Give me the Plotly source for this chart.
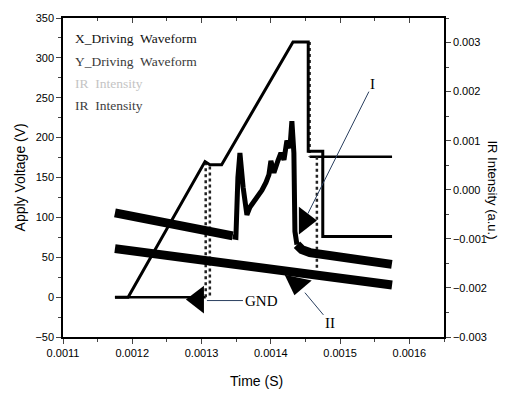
import plotly.graph_objects as go

# ---- data ----
# X driving waveform (left axis, V)
x_drive_t = [0.001175, 0.001194, 0.001305, 0.001312, 0.001329, 0.001432, 0.001454, 0.001454, 0.001475, 0.001475, 0.001575]
x_drive_v = [0, 0, 170, 166, 166, 320, 320, 183, 183, 76, 76]
# Y driving waveform (left axis, V): held levels (None = break) and switching edges
y_level_t = [0.001175, 0.001306, None, 0.001456, 0.001575]
y_level_v = [0, 0, None, 176, 176]
y_edge_t = [0.001306, 0.001306, None, 0.001312, 0.001312, None, 0.001456, 0.001456, None, 0.0014665, 0.0014665]
y_edge_v = [0, 168, None, 2, 166, None, 320, 176, None, 176, 33]

# IR intensity I (right axis, a.u.) – before, during and after the discharge
ir1_pre_t = [0.001175, 0.001260, 0.001345]
ir1_pre_v = [-0.00047, -0.00070, -0.00094]
ir1_mid_t = [0.001345, 0.0013496, 0.0013525, 0.0013554, 0.001360, 0.0013655, 0.001370, 0.0013756, 0.0013814,
             0.0013872, 0.001393, 0.0013973, 0.0014001, 0.0014045, 0.0014102, 0.0014146, 0.001419, 0.0014232,
             0.0014276, 0.0014304, 0.0014333, 0.0014348, 0.0014377]
ir1_mid_v = [-0.00096, -0.00097, 0.00025, 0.00075, 0.00005, -0.00051, -0.00035, -0.00025, -0.00011,
             -0.00001, 0.00015, 0.00031, 0.00059, 0.00035, 0.00059, 0.00075, 0.00061, 0.00100,
             0.00085, 0.00140, 0.00075, -0.00085, -0.00112]
ir1_post_t = [0.0014377, 0.0014449, 0.0014564, 0.0014853, 0.0015286, 0.0015747]
ir1_post_v = [-0.00112, -0.00122, -0.00128, -0.00134, -0.00142, -0.00152]

# IR intensity II (right axis)
ir2_t = [0.001175, 0.001375, 0.001575]
ir2_v = [-0.00120, -0.00157, -0.00194]

# pointer triangles (time, voltage)
gnd_mark = (0.0012948, -3)
i_mark = (0.0014492, 96)
ii_mark = (0.0014377, 17)

legend_items = [("X_Driving  Waveform", "#111111"), ("Y_Driving  Waveform", "#3a3a3a"),
                ("IR  Intensity", "#c4c4c4"), ("IR  Intensity", "#404040")]

x_ticks = [0.0011, 0.0012, 0.0013, 0.0014, 0.0015, 0.0016]
x_ticktext = ["0.0011", "0.0012", "0.0013", "0.0014", "0.0015", "0.0016"]

fig = go.Figure()

fig.add_trace(go.Scatter(x=ir2_t, y=ir2_v, yaxis="y2", mode="lines",
                         line=dict(color="black", width=9), showlegend=False))
fig.add_trace(go.Scatter(x=ir1_pre_t, y=ir1_pre_v, yaxis="y2", mode="lines",
                         line=dict(color="black", width=9), showlegend=False))
fig.add_trace(go.Scatter(x=ir1_mid_t, y=ir1_mid_v, yaxis="y2", mode="lines",
                         line=dict(color="black", width=5), showlegend=False))
fig.add_trace(go.Scatter(x=ir1_post_t, y=ir1_post_v, yaxis="y2", mode="lines",
                         line=dict(color="black", width=9), showlegend=False))

fig.add_trace(go.Scatter(x=y_level_t, y=y_level_v, mode="lines", connectgaps=False,
                         line=dict(color="black", width=2.5), showlegend=False))
fig.add_trace(go.Scatter(x=y_edge_t, y=y_edge_v, mode="lines", connectgaps=False,
                         line=dict(color="#222222", width=2.5, dash="dot"), showlegend=False))
fig.add_trace(go.Scatter(x=x_drive_t, y=x_drive_v, mode="lines",
                         line=dict(color="black", width=3), showlegend=False))

# pointer triangles
fig.add_trace(go.Scatter(x=[gnd_mark[0]], y=[gnd_mark[1]], mode="markers",
                         marker=dict(symbol="triangle-left", size=24, color="black"), showlegend=False))
fig.add_trace(go.Scatter(x=[i_mark[0]], y=[i_mark[1]], mode="markers",
                         marker=dict(symbol="triangle-right", size=24, color="black"), showlegend=False))
fig.add_trace(go.Scatter(x=[ii_mark[0]], y=[ii_mark[1]], mode="markers",
                         marker=dict(symbol="triangle-down", size=24, color="black", angle=12), showlegend=False))

# dummy trace for top axis ticks
fig.add_trace(go.Scatter(x=[x_ticks[0]], y=[0], xaxis="x2", mode="markers",
                         marker=dict(opacity=0), showlegend=False, hoverinfo="skip"))

serif = "Liberation Serif"
sans = "Liberation Sans"

ann = []
ys = [0.935, 0.863, 0.795, 0.727]
for (txt, col), yy in zip(legend_items, ys):
    ann.append(dict(x=0.027, y=yy, xref="paper", yref="paper", text=txt, showarrow=False,
                    xanchor="left", yanchor="middle", font=dict(family=serif, size=13.5, color=col)))

# pointer labels
ann.append(dict(x=0.0013078, y=-4.3, xref="x", yref="y", text="GND", showarrow=True, arrowhead=0,
                arrowwidth=1, ax=36, ay=0, xanchor="left", font=dict(family=serif, size=15, color="black")))
ann.append(dict(x=0.0014535, y=104.7, xref="x", yref="y", text="I", showarrow=True, arrowhead=0,
                arrowwidth=1, ax=65, ay=-130, font=dict(family=serif, size=15, color="black")))
ann.append(dict(x=0.0014492, y=5.6, xref="x", yref="y", text="II", showarrow=True, arrowhead=0,
                arrowwidth=1, ax=25, ay=30, font=dict(family=serif, size=15, color="black")))

# axis titles
ann.append(dict(x=-0.113, y=0.5, xref="paper", yref="paper", text="Apply Voltage (V)", showarrow=False,
                xanchor="center", yanchor="middle",
                textangle=-90, font=dict(family=sans, size=14, color="black")))
ann.append(dict(x=1.128, y=0.46, xref="paper", yref="paper", text="IR Intensity (a.u.)", showarrow=False,
                xanchor="center", yanchor="middle",
                textangle=90, font=dict(family=sans, size=13, color="black")))
ann.append(dict(x=0.507, y=-0.139, xref="paper", yref="paper", text="Time (S)", showarrow=False,
                xanchor="center", yanchor="middle",
                font=dict(family=sans, size=14, color="black")))

fig.update_layout(
    width=507, height=395,
    margin=dict(l=63, r=63, t=14, b=58),
    paper_bgcolor="white", plot_bgcolor="white",
    showlegend=False,
    annotations=ann,
    font=dict(family=sans, size=11, color="black"),
    xaxis=dict(range=[0.0011, 0.00165], tickvals=x_ticks, ticktext=x_ticktext,
               ticks="outside", ticklen=5, tickwidth=1, showline=True, linecolor="black", linewidth=1.5,
               mirror=True, showgrid=False, zeroline=False,
               minor=dict(ticks="outside", ticklen=3, dtick=0.00005, tick0=0.0011, showgrid=False),
               tickfont=dict(family=sans, size=11)),
    xaxis2=dict(range=[0.0011, 0.00165], overlaying="x", side="top", anchor="y", tickvals=x_ticks,
                showticklabels=False, ticks="inside", ticklen=5, showline=False, showgrid=False,
                zeroline=False, minor=dict(ticks="inside", ticklen=3, dtick=0.00005, tick0=0.0011)),
    yaxis=dict(range=[-50, 350], dtick=50, ticks="outside", ticklen=5, showline=True, linecolor="black",
               linewidth=1.5, showgrid=False, zeroline=False,
               minor=dict(ticks="outside", ticklen=3, dtick=25, showgrid=False),
               tickfont=dict(family=sans, size=11)),
    yaxis2=dict(range=[-0.003, 0.0035], overlaying="y", side="right", tickvals=[-0.003, -0.002, -0.001, 0, 0.001, 0.002, 0.003],
                tickformat=".3f", ticks="outside", ticklen=5, showline=True, linecolor="black", linewidth=1.5,
                showgrid=False, zeroline=False,
                minor=dict(ticks="outside", ticklen=3, dtick=0.0005, tick0=-0.003, showgrid=False),
                tickfont=dict(family=sans, size=11)),
)

fig.write_html("out.html")
